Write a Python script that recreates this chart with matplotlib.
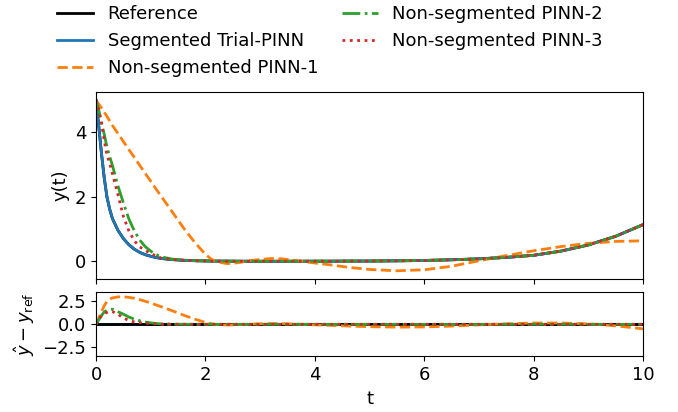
import matplotlib
matplotlib.use("Agg")
import matplotlib.pyplot as plt
import numpy as np

t = [0, 0.05, 0.1, 0.15, 0.2, 0.25, 0.3, 0.4, 0.5, 0.6, 0.7, 0.8, 0.9, 1.0,
     1.1, 1.2, 1.4, 1.6, 1.8, 2.0, 2.1, 2.2, 2.4, 2.6, 2.8, 3.0, 3.2, 3.4,
     3.7, 4.0, 4.3, 4.6, 5.0, 5.5, 6.0, 6.5, 7.0, 7.5, 8.0, 8.5, 9.0, 9.5, 10.0]

y_reference = [5.0, 4.2, 3.35, 2.6, 2.0, 1.62, 1.33, 0.97, 0.71, 0.52, 0.38, 0.28, 0.21, 0.16,
               0.12, 0.09, 0.055, 0.035, 0.022, 0.015, 0.012, 0.01, 0.008, 0.006, 0.005, 0.005, 0.005, 0.005,
               0.006, 0.007, 0.008, 0.01, 0.012, 0.018, 0.03, 0.05, 0.08, 0.125, 0.19, 0.32, 0.51, 0.78, 1.14]

y_segmented = [5.0, 4.2, 3.35, 2.6, 2.0, 1.62, 1.33, 0.97, 0.71, 0.52, 0.38, 0.28, 0.21, 0.16,
               0.12, 0.09, 0.055, 0.035, 0.022, 0.015, 0.012, 0.01, 0.008, 0.006, 0.005, 0.005, 0.005, 0.005,
               0.006, 0.007, 0.008, 0.01, 0.012, 0.018, 0.03, 0.05, 0.08, 0.125, 0.19, 0.32, 0.51, 0.78, 1.14]

y_pinn1 = [5.0, 4.88, 4.76, 4.63, 4.5, 4.36, 4.22, 3.97, 3.72, 3.47, 3.23, 2.98, 2.73, 2.49,
           2.24, 2.0, 1.52, 1.04, 0.6, 0.22, 0.08, -0.01, -0.07, -0.04, 0.02, 0.06, 0.09, 0.08,
           0.02, -0.05, -0.11, -0.18, -0.25, -0.29, -0.26, -0.15, 0.02, 0.18, 0.33, 0.46, 0.56, 0.62, 0.64]

y_pinn2 = [5.0, 4.7, 4.3, 3.95, 3.55, 3.25, 2.98, 2.35, 1.82, 1.32, 0.95, 0.66, 0.46, 0.32,
           0.21, 0.14, 0.07, 0.04, 0.025, 0.016, 0.012, 0.01, 0.008, 0.006, 0.005, 0.005, 0.005, 0.005,
           0.006, 0.007, 0.008, 0.01, 0.012, 0.018, 0.03, 0.05, 0.08, 0.125, 0.19, 0.32, 0.51, 0.78, 1.14]

y_pinn3 = [5.0, 4.7, 4.3, 3.75, 3.3, 3.05, 2.72, 2.08, 1.4, 0.95, 0.64, 0.45, 0.34, 0.25,
           0.16, 0.1, 0.06, 0.04, 0.025, 0.016, 0.012, 0.01, 0.008, 0.006, 0.005, 0.005, 0.005, 0.005,
           0.006, 0.007, 0.008, 0.01, 0.012, 0.018, 0.03, 0.05, 0.08, 0.125, 0.19, 0.32, 0.51, 0.78, 1.14]

labels = ["Reference", "Segmented Trial-PINN", "Non-segmented PINN-1",
          "Non-segmented PINN-2", "Non-segmented PINN-3"]
colors = ["black", "tab:blue", "tab:orange", "tab:green", "tab:red"]
styles = ["-", "-", "--", "-.", ":"]

plt.rcParams['font.size'] = 13
fig = plt.figure(figsize=(6.78, 4.12), dpi=100)
ax1 = fig.add_axes([0.1416, 0.3221, 0.8068, 0.4553])
ax2 = fig.add_axes([0.1416, 0.1352, 0.8068, 0.1553], sharex=ax1)

tt = np.array(t)
yref = np.array(y_reference)
series = [y_reference, y_segmented, y_pinn1, y_pinn2, y_pinn3]
lines = []
for s, lab, c, ls in zip(series, labels, colors, styles):
    ln, = ax1.plot(tt, s, color=c, linestyle=ls, linewidth=2, label=lab)
    lines.append(ln)

# error panel
order = [1, 0, 2, 3, 4]
for i in order:
    ax2.plot(tt, np.array(series[i]) - yref, color=colors[i], linestyle=styles[i], linewidth=2)

ax1.set_xlim(0, 10)
ax1.set_ylabel("y(t)")
ax1.set_yticks([0, 2, 4])
ax1.tick_params(labelbottom=False)
ax2.set_ylim(-3.5, 3.5)
ax2.set_yticks([-2.5, 0.0, 2.5])
ax2.set_xticks([0, 2, 4, 6, 8, 10])
ax2.set_xlabel("t")
ax2.set_ylabel(r"$\hat{y} - y_{\mathrm{ref}}$")

fig.legend(handles=lines, loc="upper left", bbox_to_anchor=(0.0735, 1.005),
           ncol=2, frameon=False, borderaxespad=0, columnspacing=1.3,
           labelspacing=0.5)

fig.savefig("out.png", dpi=100)
